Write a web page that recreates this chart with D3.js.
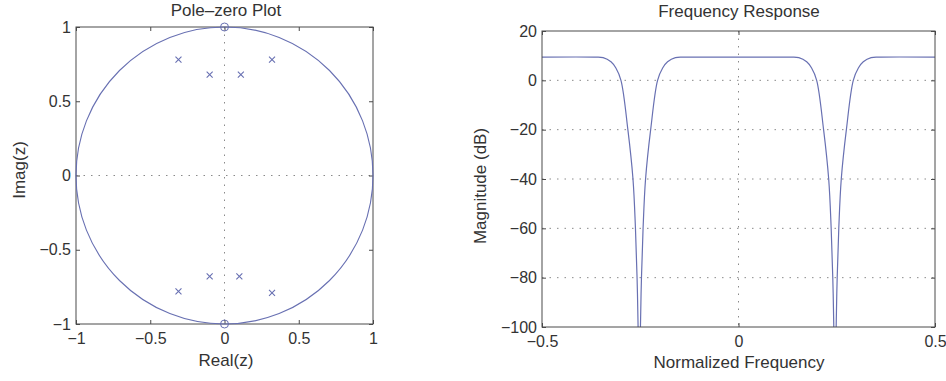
<!DOCTYPE html>
<html>
<head>
<meta charset="utf-8">
<script src="https://cdn.jsdelivr.net/npm/d3@7"></script>
<style>
  body { margin: 0; background: #fff; }
  svg text { font-family: "Liberation Sans", Arial, sans-serif; fill: #333; }
</style>
</head>
<body>
<svg id="chart" width="946" height="381"></svg>
<script>
// pole-zero data
const zeroRe = [0, 0];
const zeroIm = [1, -1];
const poleRe = [-0.31, -0.10, 0.11, 0.32, -0.31, -0.10, 0.10, 0.32];
const poleIm = [0.78, 0.68, 0.68, 0.78, -0.78, -0.68, -0.68, -0.79];
const pzTicks = [-1, -0.5, 0, 0.5, 1];

// frequency response (dB); values below -100 are clipped
const freq = [-0.5, -0.3675, -0.3445, -0.3245, -0.312, -0.2991, -0.2815, -0.2685, -0.2622, -0.2581, -0.2555, -0.2537,
  -0.2513, -0.2495, -0.2469, -0.2428, -0.2365, -0.2235, -0.2059, -0.193, -0.1805, -0.1605, -0.1375,
  0, 0.1305, 0.1535, 0.1735, 0.186, 0.1989, 0.2165, 0.2295, 0.2358, 0.2399, 0.2425, 0.2443,
  0.2467, 0.2485, 0.2511, 0.2552, 0.2615, 0.2745, 0.2921, 0.305, 0.3175, 0.3375, 0.3605, 0.5];
const magDb = [9.4, 9.4, 9.2, 7.5, 5.0, 0, -20, -40, -60, -80, -100, -130,
  -130, -100, -80, -60, -40, -20, 0, 5.0, 7.5, 9.2, 9.4,
  9.4, 9.4, 9.2, 7.5, 5.0, 0, -20, -40, -60, -80, -100, -130,
  -130, -100, -80, -60, -40, -20, 0, 5.0, 7.5, 9.2, 9.4, 9.4];
const magTicks = [20, 0, -20, -40, -60, -80, -100];
const freqTicks = [-0.5, 0, 0.5];

const lineColor = "#6870b2";
const boxColor = "#4a4a4a";
const gridColor = "#8a8a8a";
const fmt = d => String(d).replace("-", "\u2212");

const svg = d3.select("#chart");

// ---------- left: pole-zero plot ----------
const pz = { left: 76, top: 27, width: 297, height: 297 };
const px = d3.scaleLinear().domain([-1, 1]).range([pz.left, pz.left + pz.width]);
const py = d3.scaleLinear().domain([-1, 1]).range([pz.top + pz.height, pz.top]);

function frame(x, y, xt, yt, b) {
  const g = svg.append("g");
  // inward ticks on all four sides
  g.append("g").attr("transform", `translate(0,${b.top + b.height})`)
    .call(d3.axisBottom(x).tickValues(xt).tickFormat(fmt).tickSize(-4).tickPadding(9))
    .call(a => a.select(".domain").remove());
  g.append("g").attr("transform", `translate(0,${b.top})`)
    .call(d3.axisTop(x).tickValues(xt).tickFormat("").tickSize(-4))
    .call(a => a.select(".domain").remove());
  g.append("g").attr("transform", `translate(${b.left},0)`)
    .call(d3.axisLeft(y).tickValues(yt).tickFormat(fmt).tickSize(-4).tickPadding(5))
    .call(a => a.select(".domain").remove());
  g.append("g").attr("transform", `translate(${b.left + b.width},0)`)
    .call(d3.axisRight(y).tickValues(yt).tickFormat("").tickSize(-4))
    .call(a => a.select(".domain").remove());
  g.selectAll(".tick line").attr("stroke", boxColor);
  g.selectAll(".tick text").attr("font-size", 16).attr("fill", "#333")
    .attr("font-family", "Liberation Sans, Arial, sans-serif");
  g.append("rect").attr("x", b.left).attr("y", b.top)
    .attr("width", b.width).attr("height", b.height)
    .attr("fill", "none").attr("stroke", boxColor).attr("stroke-width", 1);
}

// dotted zero grid
svg.append("line").attr("x1", px(0)).attr("x2", px(0)).attr("y1", py(1)).attr("y2", py(-1))
  .attr("stroke", gridColor).attr("stroke-dasharray", "1.5,6");
svg.append("line").attr("x1", px(-1)).attr("x2", px(1)).attr("y1", py(0)).attr("y2", py(0))
  .attr("stroke", gridColor).attr("stroke-dasharray", "1.5,6");

frame(px, py, pzTicks, pzTicks, pz);

// unit circle
svg.append("ellipse").attr("cx", px(0)).attr("cy", py(0))
  .attr("rx", px(1) - px(0)).attr("ry", py(0) - py(1))
  .attr("fill", "none").attr("stroke", lineColor).attr("stroke-width", 1.1);

// zeros
svg.selectAll(".zero").data(zeroRe).enter().append("circle")
  .attr("class", "zero")
  .attr("cx", d => px(d)).attr("cy", (d, i) => py(zeroIm[i])).attr("r", 4)
  .attr("fill", "none").attr("stroke", lineColor).attr("stroke-width", 1);

// poles
svg.selectAll(".pole").data(poleRe).enter().append("path")
  .attr("class", "pole")
  .attr("transform", (d, i) => `translate(${px(d)},${py(poleIm[i])})`)
  .attr("d", "M-3,-3L3,3M-3,3L3,-3")
  .attr("stroke", lineColor).attr("stroke-width", 1.1);

svg.append("text").attr("x", 226).attr("y", 16).attr("text-anchor", "middle")
  .attr("font-size", 17).text("Pole\u2013zero Plot");
svg.append("text").attr("x", 226).attr("y", 366).attr("text-anchor", "middle")
  .attr("font-size", 17).text("Real(z)");
svg.append("text").attr("transform", "translate(25,170) rotate(-90)")
  .attr("text-anchor", "middle").attr("font-size", 17).text("Imag(z)");

// ---------- right: frequency response ----------
const fr = { left: 542, top: 31, width: 393, height: 296 };
const fx = d3.scaleLinear().domain([-0.5, 0.5]).range([fr.left, fr.left + fr.width]);
const fy = d3.scaleLinear().domain([-100, 20]).range([fr.top + fr.height, fr.top]);

const grid = svg.append("g");
grid.selectAll(".hg").data(magTicks.filter(d => d < 20 && d > -100)).enter().append("line")
  .attr("x1", fx(-0.5)).attr("x2", fx(0.5)).attr("y1", d => fy(d)).attr("y2", d => fy(d))
  .attr("stroke", gridColor).attr("stroke-dasharray", "1.5,6");
grid.append("line").attr("x1", fx(0)).attr("x2", fx(0)).attr("y1", fy(20)).attr("y2", fy(-100))
  .attr("stroke", gridColor).attr("stroke-dasharray", "1.5,6");

svg.append("clipPath").attr("id", "frclip").append("rect")
  .attr("x", fr.left).attr("y", fr.top).attr("width", fr.width).attr("height", fr.height);

const line = d3.line().x(d => fx(d[0])).y(d => fy(d[1])).curve(d3.curveCatmullRom.alpha(0.5));
svg.append("path").datum(freq.map((f, i) => [f, magDb[i]]))
  .attr("clip-path", "url(#frclip)")
  .attr("d", line).attr("fill", "none").attr("stroke", lineColor).attr("stroke-width", 1.2);

frame(fx, fy, freqTicks, magTicks, fr);

svg.append("text").attr("x", 739).attr("y", 17).attr("text-anchor", "middle")
  .attr("font-size", 17).text("Frequency Response");
svg.append("text").attr("x", 739).attr("y", 368).attr("text-anchor", "middle")
  .attr("font-size", 17).text("Normalized Frequency");
svg.append("text").attr("transform", "translate(486,186) rotate(-90)")
  .attr("text-anchor", "middle").attr("font-size", 17).text("Magnitude (dB)");
</script>
</body>
</html>
